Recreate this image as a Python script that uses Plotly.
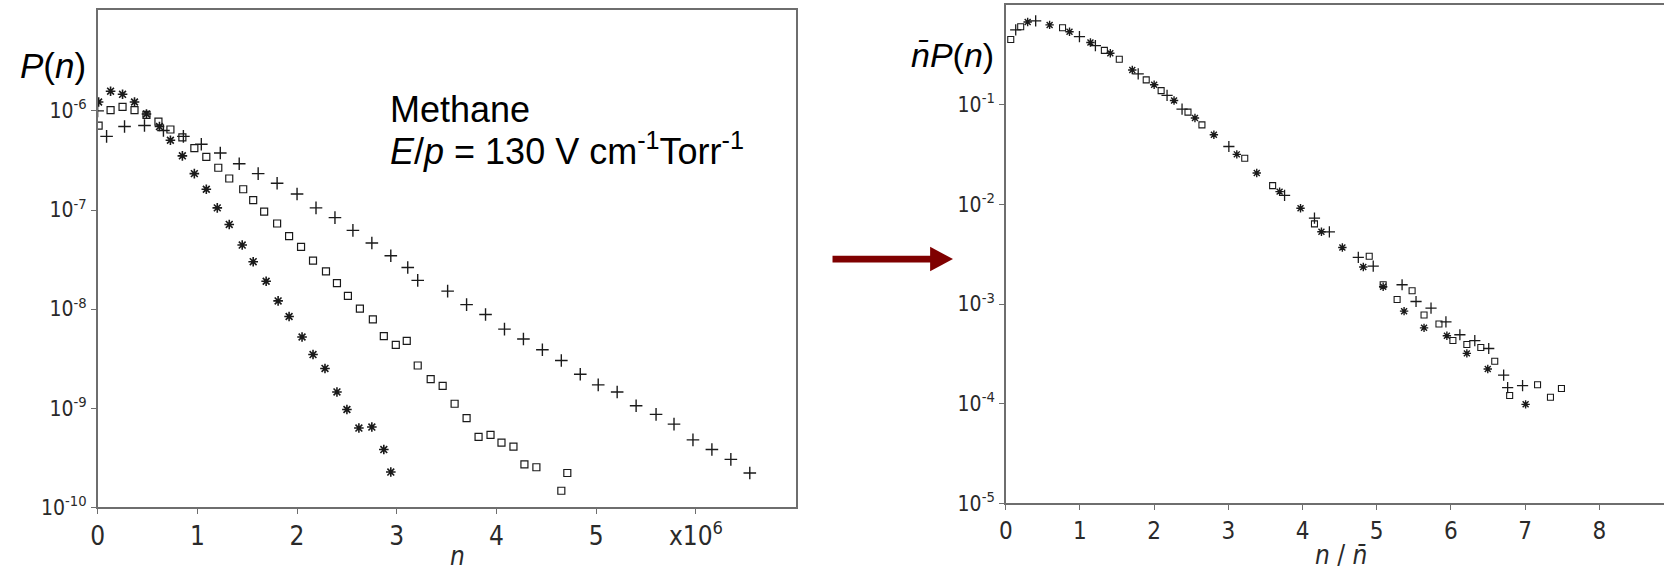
import plotly.graph_objects as go

W, H = 1664, 584

# ---- Left panel: P(n) vs n (units of 1e6), three data sets ----
ast_n = [0.01, 0.13, 0.25, 0.37, 0.49, 0.62, 0.73, 0.85, 0.97, 1.09, 1.20, 1.32, 1.45,
         1.56, 1.69, 1.81, 1.92, 2.05, 2.16, 2.28, 2.40, 2.50, 2.62, 2.75, 2.87, 2.94]
ast_p = [1.23e-6, 1.58e-6, 1.47e-6, 1.23e-6, 9.3e-7, 6.95e-7, 5.06e-7, 3.52e-7, 2.33e-7,
         1.62e-7, 1.05e-7, 7.15e-8, 4.43e-8, 3.01e-8, 1.91e-8, 1.21e-8, 8.43e-9, 5.23e-9,
         3.48e-9, 2.52e-9, 1.46e-9, 9.72e-10, 6.31e-10, 6.46e-10, 3.83e-10, 2.27e-10]

sq_n = [0.01, 0.13, 0.25, 0.37, 0.49, 0.61, 0.73, 0.85, 0.97, 1.09, 1.21, 1.32, 1.46,
        1.56, 1.67, 1.80, 1.92, 2.04, 2.16, 2.29, 2.40, 2.51, 2.63, 2.76, 2.87, 2.99,
        3.10, 3.21, 3.34, 3.46, 3.58, 3.70, 3.82, 3.94, 4.05, 4.17, 4.28, 4.40, 4.65, 4.71]
sq_p = [7.11e-7, 1.02e-6, 1.10e-6, 1.02e-6, 9.13e-7, 7.78e-7, 6.49e-7, 5.41e-7, 4.21e-7,
        3.44e-7, 2.67e-7, 2.08e-7, 1.62e-7, 1.26e-7, 9.61e-8, 7.31e-8, 5.44e-8, 4.24e-8,
        3.08e-8, 2.40e-8, 1.83e-8, 1.36e-8, 1.01e-8, 7.87e-9, 5.35e-9, 4.36e-9, 4.78e-9,
        2.70e-9, 1.97e-9, 1.68e-9, 1.11e-9, 7.93e-10, 5.14e-10, 5.38e-10, 4.49e-10,
        4.09e-10, 2.72e-10, 2.54e-10, 1.47e-10, 2.22e-10]

pl_n = [0.00, 0.09, 0.27, 0.47, 0.66, 0.86, 1.04, 1.23, 1.42, 1.61, 1.80, 2.00, 2.19,
        2.38, 2.56, 2.75, 2.94, 3.11, 3.21, 3.51, 3.70, 3.89, 4.08, 4.27, 4.46, 4.65,
        4.84, 5.02, 5.21, 5.40, 5.60, 5.78, 5.97, 6.16, 6.35, 6.54]
pl_p = [1.0e-6, 5.53e-7, 6.95e-7, 7.11e-7, 6.34e-7, 5.53e-7, 4.61e-7, 3.76e-7, 2.93e-7,
        2.33e-7, 1.86e-7, 1.45e-7, 1.05e-7, 8.38e-8, 6.23e-8, 4.65e-8, 3.45e-8, 2.63e-8,
        1.95e-8, 1.52e-8, 1.11e-8, 8.82e-9, 6.28e-9, 5.00e-9, 3.89e-9, 3.03e-9, 2.20e-9,
        1.72e-9, 1.46e-9, 1.06e-9, 8.67e-10, 6.91e-10, 4.80e-10, 3.83e-10, 3.05e-10,
        2.22e-10]

left_xticks = [0, 1, 2, 3, 4, 5, 6]
left_xlabels = ["0", "1", "2", "3", "4", "5", "x10<sup>6</sup>"]
left_yticks = [1e-10, 1e-9, 1e-8, 1e-7, 1e-6]
left_ylabels = ["10<sup>-10</sup>", "10<sup>-9</sup>", "10<sup>-8</sup>",
                "10<sup>-7</sup>", "10<sup>-6</sup>"]

# ---- Right panel: scaled distribution n̄P(n) vs n/n̄ ----
r_ast_x = [0.295, 0.591, 0.859, 1.141, 1.409, 1.705, 2.000, 2.268, 2.550, 2.805, 3.114,
           3.383, 3.691, 3.973, 4.255, 4.537, 4.819, 5.087, 5.369, 5.638, 5.946, 6.215,
           6.497, 7.007]
r_ast_y = [0.674, 0.630, 0.537, 0.419, 0.327, 0.222, 0.158, 0.110, 0.0733, 0.0499,
           0.0317, 0.0206, 0.0134, 9.14e-3, 5.30e-3, 3.69e-3, 2.35e-3, 1.49e-3, 8.48e-4,
           5.77e-4, 4.81e-4, 3.20e-4, 2.23e-4, 9.86e-5]

r_sq_x = [0.067, 0.201, 0.765, 1.329, 1.530, 1.893, 2.094, 2.456, 2.644, 3.221, 3.597,
          4.161, 4.899, 5.087, 5.275, 5.477, 5.638, 5.839, 6.027, 6.215, 6.403, 6.591,
          6.792, 7.168, 7.342, 7.490]
r_sq_y = [0.449, 0.603, 0.589, 0.350, 0.285, 0.177, 0.138, 0.0840, 0.0626, 0.0290,
          0.0154, 6.36e-3, 3.01e-3, 1.56e-3, 1.11e-3, 1.36e-3, 7.75e-4, 6.31e-4, 4.30e-4,
          3.93e-4, 3.67e-4, 2.67e-4, 1.21e-4, 1.55e-4, 1.16e-4, 1.42e-4]

r_pl_x = [0.134, 0.403, 0.993, 1.208, 1.785, 2.174, 2.376, 3.007, 3.758, 4.161, 4.362,
          4.752, 4.953, 5.342, 5.530, 5.732, 5.933, 6.121, 6.322, 6.510, 6.711, 6.765,
          6.966]
r_pl_y = [0.562, 0.690, 0.480, 0.391, 0.203, 0.124, 0.0899, 0.0380, 0.0123, 7.28e-3,
          5.30e-3, 2.94e-3, 2.40e-3, 1.56e-3, 1.06e-3, 9.08e-4, 6.61e-4, 4.92e-4,
          4.30e-4, 3.58e-4, 1.94e-4, 1.45e-4, 1.52e-4]

right_xticks = [0, 1, 2, 3, 4, 5, 6, 7, 8]
right_xlabels = [str(v) for v in right_xticks]
right_yticks = [1e-5, 1e-4, 1e-3, 1e-2, 1e-1]
right_ylabels = ["10<sup>-5</sup>", "10<sup>-4</sup>", "10<sup>-3</sup>",
                 "10<sup>-2</sup>", "10<sup>-1</sup>"]

INK = "#1a1a1a"
AXIS = "#6e6e6e"
SCAN_FONT = "Liberation Sans Narrow, DejaVu Sans Condensed, Liberation Sans, sans-serif"
TEXT_FONT = "Liberation Sans, Arial, sans-serif"


def px(x):
    return x / W


def py(y):
    return 1 - y / H


def marker(symbol, size, lw):
    return dict(symbol=symbol, size=size, color=INK, line=dict(color=INK, width=lw))


fig = go.Figure()

series = [
    ("x", "y", ast_n, ast_p, "asterisk-open", 8, 1.6),
    ("x", "y", sq_n, sq_p, "square-open", 7, 1.2),
    ("x", "y", pl_n, pl_p, "cross-thin-open", 9, 1.4),
    ("x2", "y2", r_ast_x, r_ast_y, "asterisk-open", 7, 1.4),
    ("x2", "y2", r_sq_x, r_sq_y, "square-open", 6, 1.1),
    ("x2", "y2", r_pl_x, r_pl_y, "cross-thin-open", 8, 1.3),
]
for xa, ya, xs, ys, sym, size, lw in series:
    fig.add_trace(go.Scatter(x=xs, y=ys, xaxis=xa, yaxis=ya, mode="markers",
                             marker=marker(sym, size, lw), showlegend=False,
                             hoverinfo="skip"))

axis_common = dict(showgrid=False, zeroline=False, showline=True, linecolor=AXIS,
                   linewidth=1.5, ticks="outside", tickcolor=AXIS, tickwidth=1.2,
                   ticklen=5, mirror=True)


def tick_font(size):
    return dict(family=SCAN_FONT, size=size, color="#2a2a2a")


fig.update_layout(
    width=W, height=H, autosize=False,
    margin=dict(l=0, r=0, t=0, b=0, pad=0),
    paper_bgcolor="white", plot_bgcolor="white",
    xaxis=dict(domain=[px(91), px(792)], range=[0, 7], anchor="y",
               tickvals=left_xticks, ticktext=left_xlabels,
               tickfont=tick_font(26), **axis_common),
    yaxis=dict(domain=[py(518), py(10)], type="log", range=[-10, -4.98], anchor="x",
               tickvals=left_yticks, ticktext=left_ylabels,
               tickfont=tick_font(21), **axis_common),
    xaxis2=dict(domain=[px(1003), 1.0], range=[0, (W - 1003) / 74.5], anchor="y2",
                tickvals=right_xticks, ticktext=right_xlabels,
                tickfont=tick_font(24), **axis_common),
    yaxis2=dict(domain=[py(514), py(5)], type="log", range=[-5, 0], anchor="x2",
                tickvals=right_yticks, ticktext=right_ylabels,
                tickfont=tick_font(21), **{**axis_common, "mirror": False}),
)

annotations = [
    dict(x=px(46), y=py(67), text="<i>P</i>(<i>n</i>)",
         font=dict(family=TEXT_FONT, size=35, color="black")),
    dict(x=px(949), y=py(56), text="<i>n̄P</i>(<i>n</i>)",
         font=dict(family=TEXT_FONT, size=34, color="black")),
    dict(x=px(383), y=py(112), text="Methane", xanchor="left",
         font=dict(family=TEXT_FONT, size=36, color="black")),
    dict(x=px(383), y=py(152), xanchor="left",
         text="<i>E</i>/<i>p</i> = 130 V cm<sup>-1</sup>Torr<sup>-1</sup>",
         font=dict(family=TEXT_FONT, size=36, color="black")),
    dict(x=px(452), y=py(568), text="<i>n</i>",
         font=dict(family=SCAN_FONT, size=26, color="#2a2a2a")),
    dict(x=px(1340), y=py(567), text="<i>n</i> / <i>n̄</i>",
         font=dict(family=SCAN_FONT, size=26, color="#2a2a2a")),
]
for a in annotations:
    a.setdefault("xanchor", "center")
    a.update(xref="paper", yref="paper", yanchor="middle", showarrow=False)
fig.update_layout(annotations=annotations)

# Dark red arrow between the panels
ARROW = "#7f0000"
fig.add_shape(type="rect", xref="paper", yref="paper",
              x0=px(829), x1=px(928), y0=py(268), y1=py(261),
              fillcolor=ARROW, line=dict(width=0))
fig.add_shape(type="path", xref="paper", yref="paper",
              path=f"M {px(927)} {py(252)} L {px(950)} {py(264.5)} L {px(927)} {py(277)} Z",
              fillcolor=ARROW, line=dict(width=0))

fig.write_html("out.html")
